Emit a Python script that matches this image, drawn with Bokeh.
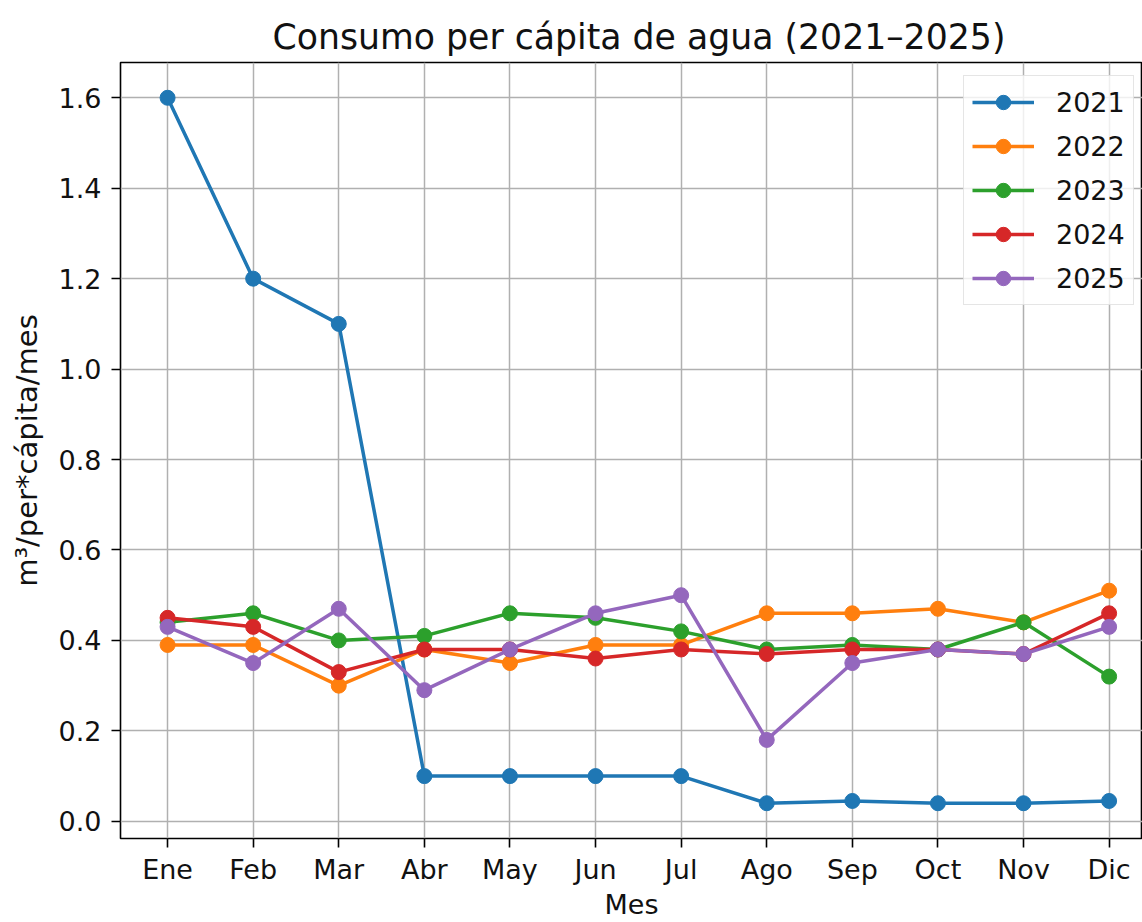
from bokeh.plotting import figure
from bokeh.models import Range1d, FixedTicker, Legend, LegendItem
from bokeh.embed import file_html
from bokeh.resources import INLINE

months = ["Ene", "Feb", "Mar", "Abr", "May", "Jun", "Jul", "Ago", "Sep", "Oct", "Nov", "Dic"]
years = ["2021", "2022", "2023", "2024", "2025"]
v2021 = [1.60, 1.20, 1.10, 0.10, 0.10, 0.10, 0.10, 0.04, 0.045, 0.04, 0.04, 0.045]
v2022 = [0.39, 0.39, 0.30, 0.38, 0.35, 0.39, 0.39, 0.46, 0.46, 0.47, 0.44, 0.51]
v2023 = [0.44, 0.46, 0.40, 0.41, 0.46, 0.45, 0.42, 0.38, 0.39, 0.38, 0.44, 0.32]
v2024 = [0.45, 0.43, 0.33, 0.38, 0.38, 0.36, 0.38, 0.37, 0.38, 0.38, 0.37, 0.46]
v2025 = [0.43, 0.35, 0.47, 0.29, 0.38, 0.46, 0.50, 0.18, 0.35, 0.38, 0.37, 0.43]
series = [v2021, v2022, v2023, v2024, v2025]
colors = ["#1f77b4", "#ff7f0e", "#2ca02c", "#d62728", "#9467bd"]

FONT = "DejaVu Sans"
x = list(range(len(months)))

p = figure(width=1142, height=922, output_backend="svg", toolbar_location=None,
           x_range=Range1d(-0.55, 11.39), y_range=Range1d(-0.038, 1.678),
           title="Consumo per cápita de agua (2021–2025)",
           min_border_left=120, min_border_right=0, min_border_top=62, min_border_bottom=84)

p.title.text_font = FONT
p.title.text_font_size = "34.7px"
p.title.text_font_style = "normal"
p.title.align = "left"
p.title.offset = 152
p.title.text_color = "#111111"
p.title.standoff = 12

p.outline_line_color = "black"
p.outline_line_width = 1.6
p.outline_line_alpha = 1.0

for ax in (p.xaxis[0], p.yaxis[0]):
    ax.axis_line_color = None
    ax.major_tick_out = 9
    ax.major_tick_in = 0
    ax.major_tick_line_width = 1.6
    ax.major_tick_line_color = "black"
    ax.minor_tick_line_color = None
    ax.major_label_text_font = FONT
    ax.major_label_text_font_size = "27px"
    ax.major_label_text_color = "#111111"
    ax.axis_label_text_font = FONT
    ax.axis_label_text_font_style = "normal"
    ax.axis_label_text_color = "#111111"

p.xaxis.ticker = FixedTicker(ticks=x)
p.xaxis.major_label_overrides = {i: m for i, m in enumerate(months)}
p.xaxis.axis_label = "Mes"
p.xaxis.axis_label_text_font_size = "27px"
p.xaxis.major_label_standoff = 6
p.xaxis.axis_label_standoff = 1

p.yaxis.ticker = FixedTicker(ticks=[0.0, 0.2, 0.4, 0.6, 0.8, 1.0, 1.2, 1.4, 1.6])
p.yaxis.major_label_overrides = {0.0: "0.0", 0.2: "0.2", 0.4: "0.4", 0.6: "0.6", 0.8: "0.8",
                                 1.0: "1.0", 1.2: "1.2", 1.4: "1.4", 1.6: "1.6"}
p.yaxis.axis_label = "m³/per*cápita/mes"
p.yaxis.axis_label_text_font_size = "29px"
p.yaxis.major_label_standoff = 10
p.yaxis.axis_label_standoff = 12

for g in (p.xgrid[0], p.ygrid[0]):
    g.grid_line_color = "#b0b0b0"
    g.grid_line_width = 1.5

items = []
for yr, vals, c in zip(years, series, colors):
    r1 = p.line(x, vals, line_color=c, line_width=3.5)
    r2 = p.scatter(x, vals, size=15, fill_color=c, line_color=c)
    items.append(LegendItem(label=yr, renderers=[r1, r2]))

legend = Legend(items=items, location=(843, 533))
legend.label_text_font = FONT
legend.label_text_font_size = "27px"
legend.label_text_color = "#111111"
legend.glyph_width = 62
legend.glyph_height = 36
legend.spacing = 8
legend.padding = 8
legend.label_standoff = 22
legend.border_line_color = "#cccccc"
legend.border_line_width = 1.5
legend.background_fill_color = "white"
legend.background_fill_alpha = 0.8
p.add_layout(legend, "center")

open("out.html", "w").write(file_html(p, INLINE))
